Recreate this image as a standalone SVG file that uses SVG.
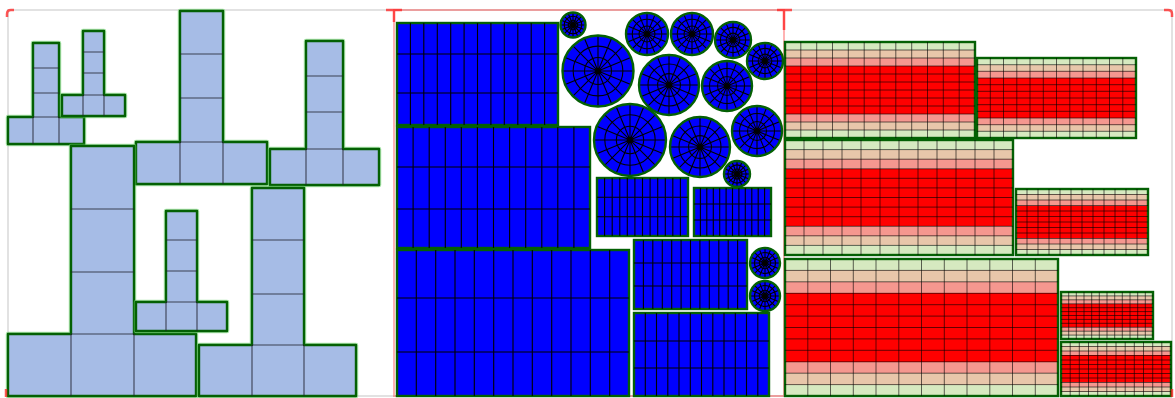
<svg xmlns="http://www.w3.org/2000/svg" xmlns:xlink="http://www.w3.org/1999/xlink" width="1175" height="398" viewBox="0 0 1175 398">
<style>
.bg{fill:#fff}
.frame{fill:none;stroke:#e2e2e2;stroke-width:2}
.mid{fill:none;stroke:#ff0000;stroke-opacity:.3;stroke-width:2}
.mark{fill:none;stroke:#ff2020;stroke-opacity:.75;stroke-width:2.5}
.lp{fill:#a6bce6;stroke:#046004;stroke-width:2.4;stroke-linejoin:round}
.glow{fill:none;stroke:#66d266;stroke-opacity:.55;stroke-width:4.5;stroke-linejoin:round}
.gl{fill:none;stroke:#22222e;stroke-opacity:.8;stroke-width:1.1}
.bx{fill:#0000ff;stroke:#046004;stroke-width:2.4}
.bl{fill:none;stroke:#000;stroke-width:1.1}
.rb{fill:url(#band);stroke:#046004;stroke-width:2.4}
.rl{fill:none;stroke:#000;stroke-opacity:.6;stroke-width:1}
.nv{vector-effect:non-scaling-stroke}
</style>
<defs>
<linearGradient id="band" x1="0" y1="0" x2="0" y2="1">
<stop offset="0" stop-color="#d6e9c0"/><stop offset=".0833" stop-color="#d6e9c0"/>
<stop offset=".0833" stop-color="#e8c6aa"/><stop offset=".1667" stop-color="#e8c6aa"/>
<stop offset=".1667" stop-color="#f5978f"/><stop offset=".25" stop-color="#f5978f"/>
<stop offset=".25" stop-color="#ff0000"/><stop offset=".75" stop-color="#ff0000"/>
<stop offset=".75" stop-color="#f5978f"/><stop offset=".8333" stop-color="#f5978f"/>
<stop offset=".8333" stop-color="#e8c6aa"/><stop offset=".9167" stop-color="#e8c6aa"/>
<stop offset=".9167" stop-color="#d6e9c0"/><stop offset="1" stop-color="#d6e9c0"/>
</linearGradient>
<g id="wheel">
<circle r="1" fill="#0000ff"/>
<circle r="0.7" class="bl nv"/>
<circle r="0.38" class="bl nv"/>
<path class="bl nv" d="M-1,0L1,0M-.924,-.383L.924,.383M-.707,-.707L.707,.707M-.383,-.924L.383,.924M0,-1L0,1M.383,-.924L-.383,.924M.707,-.707L-.707,.707M.924,-.383L-.924,.383"/>
<circle r="0.08" fill="#000"/>
<circle r="1" fill="none" stroke="#046004" stroke-width="2.4" class="nv"/>
</g>
</defs>
<rect class="bg" x="0" y="0" width="1175" height="398"/>
<rect class="frame" x="8" y="10" width="1164" height="386"/>

<g id="left-panel">
<g id="shape-a"><path class="glow" d="M33,43H59V117H84V144H8V117H33Z"/><path class="lp" d="M33,43H59V117H84V144H8V117H33Z"/><path class="gl" d="M33,68H59M33,93H59M33,117H59M33,117V144M59,117V144"/></g>
<g id="shape-b"><path class="glow" d="M83,31H104V95H125V116H62V95H83Z"/><path class="lp" d="M83,31H104V95H125V116H62V95H83Z"/><path class="gl" d="M83,52H104M83,73H104M83,95H104M83,95V116M104,95V116"/></g>
<g id="shape-c"><path class="glow" d="M180,11H223V142H267V184H136V142H180Z"/><path class="lp" d="M180,11H223V142H267V184H136V142H180Z"/><path class="gl" d="M180,54H223M180,98H223M180,142H223M180,142V184M223,142V184"/></g>
<g id="shape-d"><path class="glow" d="M306,41H343V149H379V185H270V149H306Z"/><path class="lp" d="M306,41H343V149H379V185H270V149H306Z"/><path class="gl" d="M306,76H343M306,112H343M306,149H343M306,149V185M343,149V185"/></g>
<g id="shape-e"><path class="glow" d="M71,146H134V334H196V396H8V334H71Z"/><path class="lp" d="M71,146H134V334H196V396H8V334H71Z"/><path class="gl" d="M71,209H134M71,272H134M71,334H134M71,334V396M134,334V396"/></g>
<g id="shape-f"><path class="glow" d="M166,211H197V302H227V331H136V302H166Z"/><path class="lp" d="M166,211H197V302H227V331H136V302H166Z"/><path class="gl" d="M166,240H197M166,271H197M166,302H197M166,302V331M197,302V331"/></g>
<g id="shape-g"><path class="glow" d="M252,188H304V345H356V396H199V345H252Z"/><path class="lp" d="M252,188H304V345H356V396H199V345H252Z"/><path class="gl" d="M252,240H304M252,294H304M252,345H304M252,345V396M304,345V396"/></g>
</g>

<rect class="mid" x="394" y="10" width="390" height="386"/>

<g id="middle-panel">
<g id="m1"><rect class="bx" x="397" y="23" width="161" height="102"/><path class="bl" d="M397,54H558M397,93H558M410.4,23V125M423.8,23V125M437.3,23V125M450.7,23V125M464.1,23V125M477.5,23V125M490.9,23V125M504.3,23V125M517.8,23V125M531.2,23V125M544.6,23V125"/></g>
<g id="m2"><rect class="bx" x="397" y="127" width="193" height="121"/><path class="bl" d="M397,167H590M397,209H590M413.1,127V248M429.2,127V248M445.3,127V248M461.3,127V248M477.4,127V248M493.5,127V248M509.6,127V248M525.7,127V248M541.8,127V248M557.8,127V248M573.9,127V248"/></g>
<g id="m3"><rect class="bx" x="397" y="250" width="232" height="146"/><path class="bl" d="M397,298H629M397,352H629M416.3,250V396M435.7,250V396M455,250V396M474.3,250V396M493.7,250V396M513,250V396M532.3,250V396M551.7,250V396M571,250V396M590.3,250V396M609.7,250V396"/></g>
<g id="m4"><rect class="bx" x="597" y="178" width="91" height="58"/><path class="bl" d="M597,197.3H688M597,216.7H688M604.6,178V236M612.2,178V236M619.8,178V236M627.3,178V236M634.9,178V236M642.5,178V236M650.1,178V236M657.7,178V236M665.3,178V236M672.8,178V236M680.4,178V236"/></g>
<g id="m5"><rect class="bx" x="694" y="188" width="77" height="48"/><path class="bl" d="M694,204H771M694,220H771M700.4,188V236M706.8,188V236M713.3,188V236M719.7,188V236M726.1,188V236M732.5,188V236M738.9,188V236M745.3,188V236M751.8,188V236M758.2,188V236M764.6,188V236"/></g>
<g id="m6"><rect class="bx" x="634" y="240" width="113" height="69"/><path class="bl" d="M634,263H747M634,286H747M643.4,240V309M652.8,240V309M662.3,240V309M671.7,240V309M681.1,240V309M690.5,240V309M699.9,240V309M709.3,240V309M718.8,240V309M728.2,240V309M737.6,240V309"/></g>
<g id="m7"><rect class="bx" x="634" y="313" width="135" height="83"/><path class="bl" d="M634,341H769M634,368H769M645.3,313V396M656.5,313V396M667.8,313V396M679,313V396M690.3,313V396M701.5,313V396M712.8,313V396M724,313V396M735.3,313V396M746.5,313V396M757.8,313V396"/></g>
<g id="c1"><use href="#wheel" transform="translate(573,25) scale(12.5)"/></g>
<g id="c2"><use href="#wheel" transform="translate(598,71) scale(35.5)"/></g>
<g id="c3"><use href="#wheel" transform="translate(647,34) scale(21)"/></g>
<g id="c4"><use href="#wheel" transform="translate(692,34) scale(21)"/></g>
<g id="c5"><use href="#wheel" transform="translate(733,40) scale(18)"/></g>
<g id="c6"><use href="#wheel" transform="translate(765,61) scale(18)"/></g>
<g id="c7"><use href="#wheel" transform="translate(669,85) scale(30)"/></g>
<g id="c8"><use href="#wheel" transform="translate(727,86) scale(25)"/></g>
<g id="c9"><use href="#wheel" transform="translate(630,140) scale(36)"/></g>
<g id="c10"><use href="#wheel" transform="translate(700,147) scale(30)"/></g>
<g id="c11"><use href="#wheel" transform="translate(757,131) scale(25)"/></g>
<g id="c12"><use href="#wheel" transform="translate(737,174) scale(13)"/></g>
<g id="c13"><use href="#wheel" transform="translate(765,263) scale(15)"/></g>
<g id="c14"><use href="#wheel" transform="translate(765,296) scale(15)"/></g>
</g>

<g id="right-panel">
<g id="r1"><rect class="rb" x="785" y="42" width="190" height="96"/><path class="rl" d="M785,50H975M785,58H975M785,66H975M785,74H975M785,82H975M785,90H975M785,98H975M785,106H975M785,114H975M785,122H975M785,130H975M800.8,42V138M816.7,42V138M832.5,42V138M848.3,42V138M864.2,42V138M880,42V138M895.8,42V138M911.7,42V138M927.5,42V138M943.3,42V138M959.2,42V138"/></g>
<g id="r2"><rect class="rb" x="977" y="58" width="159" height="80"/><path class="rl" d="M977,64.7H1136M977,71.3H1136M977,78H1136M977,84.7H1136M977,91.3H1136M977,98H1136M977,104.7H1136M977,111.3H1136M977,118H1136M977,124.7H1136M977,131.3H1136M990.3,58V138M1003.5,58V138M1016.8,58V138M1030,58V138M1043.3,58V138M1056.5,58V138M1069.8,58V138M1083,58V138M1096.3,58V138M1109.5,58V138M1122.8,58V138"/></g>
<g id="r3"><rect class="rb" x="785" y="140" width="228" height="115"/><path class="rl" d="M785,149.6H1013M785,159.2H1013M785,168.8H1013M785,178.3H1013M785,187.9H1013M785,197.5H1013M785,207.1H1013M785,216.7H1013M785,226.3H1013M785,235.8H1013M785,245.4H1013M804,140V255M823,140V255M842,140V255M861,140V255M880,140V255M899,140V255M918,140V255M937,140V255M956,140V255M975,140V255M994,140V255"/></g>
<g id="r4"><rect class="rb" x="1016" y="189" width="132" height="66"/><path class="rl" d="M1016,194.5H1148M1016,200H1148M1016,205.5H1148M1016,211H1148M1016,216.5H1148M1016,222H1148M1016,227.5H1148M1016,233H1148M1016,238.5H1148M1016,244H1148M1016,249.5H1148M1027,189V255M1038,189V255M1049,189V255M1060,189V255M1071,189V255M1082,189V255M1093,189V255M1104,189V255M1115,189V255M1126,189V255M1137,189V255"/></g>
<g id="r5"><rect class="rb" x="785" y="259" width="273" height="137"/><path class="rl" d="M785,270.4H1058M785,281.8H1058M785,293.3H1058M785,304.7H1058M785,316.1H1058M785,327.5H1058M785,338.9H1058M785,350.3H1058M785,361.8H1058M785,373.2H1058M785,384.6H1058M807.8,259V396M830.5,259V396M853.3,259V396M876,259V396M898.8,259V396M921.5,259V396M944.3,259V396M967,259V396M989.8,259V396M1012.5,259V396M1035.3,259V396"/></g>
<g id="r6"><rect class="rb" x="1061" y="292" width="92" height="47"/><path class="rl" d="M1061,295.9H1153M1061,299.8H1153M1061,303.8H1153M1061,307.7H1153M1061,311.6H1153M1061,315.5H1153M1061,319.4H1153M1061,323.3H1153M1061,327.3H1153M1061,331.2H1153M1061,335.1H1153M1068.7,292V339M1076.3,292V339M1084,292V339M1091.7,292V339M1099.3,292V339M1107,292V339M1114.7,292V339M1122.3,292V339M1130,292V339M1137.7,292V339M1145.3,292V339"/></g>
<g id="r7"><rect class="rb" x="1061" y="342" width="110" height="54"/><path class="rl" d="M1061,346.5H1171M1061,351H1171M1061,355.5H1171M1061,360H1171M1061,364.5H1171M1061,369H1171M1061,373.5H1171M1061,378H1171M1061,382.5H1171M1061,387H1171M1061,391.5H1171M1070.2,342V396M1079.3,342V396M1088.5,342V396M1097.7,342V396M1106.8,342V396M1116,342V396M1125.2,342V396M1134.3,342V396M1143.5,342V396M1152.7,342V396M1161.8,342V396"/></g>
</g>

<g id="marks">
<path class="mark" d="M7,17V14Q7,10 11,10H14"/>
<path class="mark" d="M386,10H402M394,10V22"/>
<path class="mark" d="M777,10H792M784,10V30"/>
<path class="mark" d="M1164,10H1168Q1172,10 1172,14V17"/>
<path class="mark" d="M6,389V397"/>
<path class="mark" d="M1172,389V397"/>
</g>
</svg>
